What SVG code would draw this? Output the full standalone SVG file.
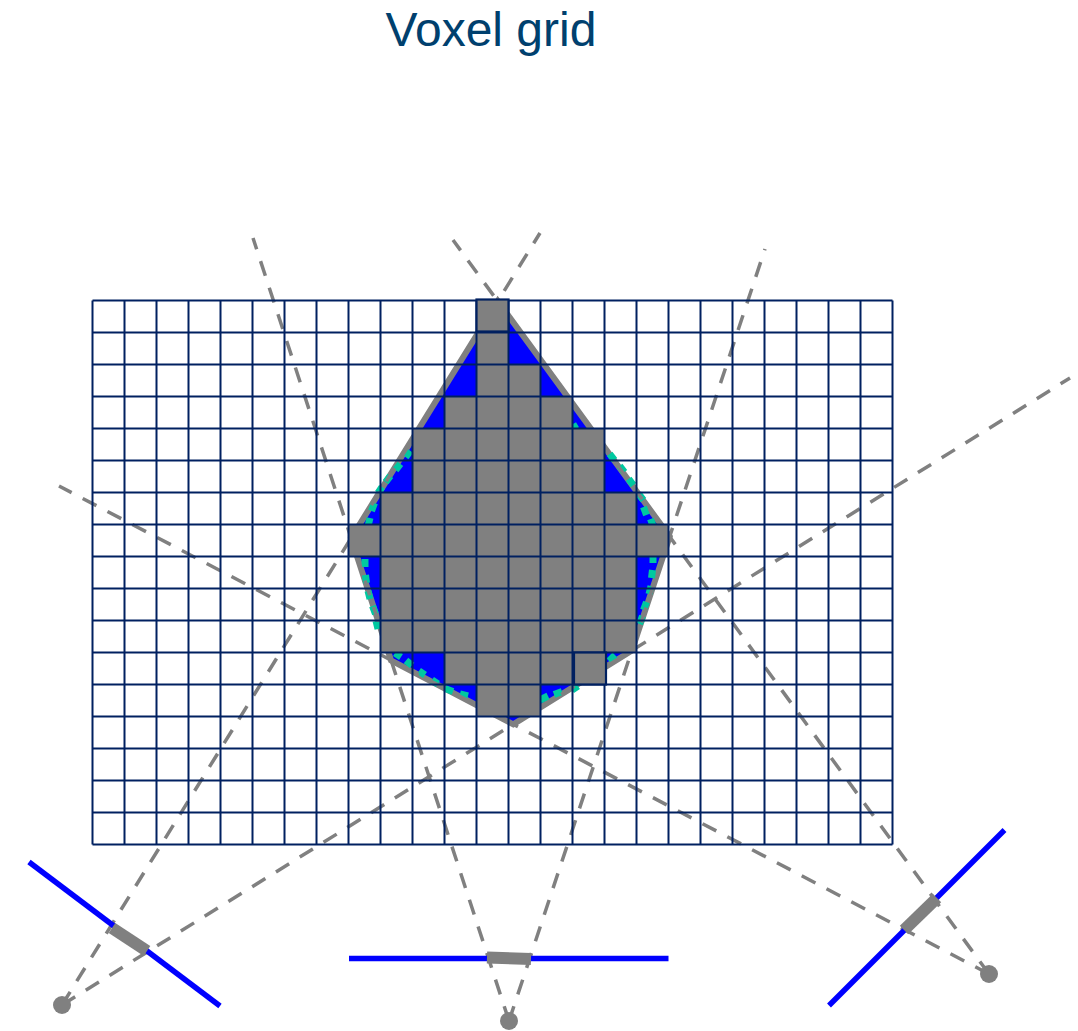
<svg xmlns="http://www.w3.org/2000/svg" width="1078" height="1031" viewBox="0 0 1078 1031">
<style>
.ray{fill:none;stroke:#808080;stroke-width:3.5;stroke-dasharray:15.5 12.5}
.det{fill:none;stroke:#0000ff;stroke-width:5.5}
.act{fill:none;stroke:#808080;stroke-width:12}
.src{fill:#808080}
.vox{fill:#808080;stroke:#002060;stroke-width:2.2}
</style>
<rect width="1078" height="1031" fill="#ffffff"/>
<text id="title" x="491" y="46" text-anchor="middle" font-family="'Liberation Sans',Arial,sans-serif" font-size="48" fill="#00406e">Voxel grid</text>
<g id="object">
<polygon points="497.8,301.2 351.1,538.1 391,660.3 513.3,724.4 631.9,650.6 669.7,536.6" fill="#0000ff" stroke="#808080" stroke-width="6"/>
<path fill="none" stroke="#00c8a0" stroke-width="7" d="M410.4,450.8L405.6,457.2M400.4,463.8L395.6,470.2M390.4,475.8L385.6,482.2M382,487L378,493M374.5,503L371.5,511M370,518L368,526M609.6,453.8L614.4,460.2M619.6,465.8L624.4,472.2M628.6,478.8L633.4,485.2M638.6,493.8L643.4,500.2M643.5,507L646.5,515M650.5,519L653.5,527M573,424L576,429M365,559L365,567M365.5,575L366.5,583M368,591L370,599M372.5,606L375.5,614M376,621L378,629M395,653L401,657M406,660.5L412,665.5M419,671L425,675M432,680L438,684M445,688.5L453,691.5M460,694L468,696M653,555L653,563M652.5,570L651.5,578M651,586L649,594M646.5,602L643.5,610M642.5,616L639.5,624M615,655L609,661M578,686L572,690M562,691.5L554,694.5M548,696L540,700"/>
</g>
<g id="connectors">
<path class="ray" d="M62,1005L540,233"/>
<path class="ray" d="M62,1005L1070,378"/>
<path class="ray" d="M509,1021L253,238"/>
<path class="ray" d="M509,1021L765,249"/>
<path class="ray" d="M989,974L453,240"/>
<path class="ray" d="M989,974L59,486"/>
</g>
<g id="voxels">
<path fill="#808080" d="M476.5,300.5H508.5V364.5H540.5V396.5H572.5V428.5H604.5V492.5H636.5V524.5H668.5V556.5H636.5V652.5H604.5V684.5H540.5V716.5H476.5V684.5H444.5V652.5H380.5V556.5H348.5V524.5H380.5V492.5H412.5V428.5H444.5V396.5H476.5Z"/>
</g>
<g id="grid">
<path fill="none" stroke="#002060" stroke-width="2" d="M92.5,300.5H892.5M92.5,332.5H892.5M92.5,364.5H892.5M92.5,396.5H892.5M92.5,428.5H892.5M92.5,460.5H892.5M92.5,492.5H892.5M92.5,524.5H892.5M92.5,556.5H892.5M92.5,588.5H892.5M92.5,620.5H892.5M92.5,652.5H892.5M92.5,684.5H892.5M92.5,716.5H892.5M92.5,748.5H892.5M92.5,780.5H892.5M92.5,812.5H892.5M92.5,844.5H892.5M92.5,300.5V844.5M124.5,300.5V844.5M156.5,300.5V844.5M188.5,300.5V844.5M220.5,300.5V844.5M252.5,300.5V844.5M284.5,300.5V844.5M316.5,300.5V844.5M348.5,300.5V844.5M380.5,300.5V844.5M412.5,300.5V844.5M444.5,300.5V844.5M476.5,300.5V844.5M508.5,300.5V844.5M540.5,300.5V844.5M572.5,300.5V844.5M604.5,300.5V844.5M636.5,300.5V844.5M668.5,300.5V844.5M700.5,300.5V844.5M732.5,300.5V844.5M764.5,300.5V844.5M796.5,300.5V844.5M828.5,300.5V844.5M860.5,300.5V844.5M892.5,300.5V844.5"/>
</g>
<g id="voxel-top"><rect class="vox" x="476.5" y="299.5" width="32" height="32"/></g>
<g id="voxel-low"><rect class="vox" x="574" y="652.5" width="32" height="32"/></g>
<g id="detector-left">
<path class="det" d="M29,862L220,1006"/>
<path class="act" d="M112,928L147,951"/>
<circle class="src" cx="62" cy="1005" r="9"/>
</g>
<g id="detector-center">
<path class="det" d="M349,958.5H668.5"/>
<path class="act" d="M487,957.5L531,959"/>
<circle class="src" cx="509" cy="1021" r="9"/>
</g>
<g id="detector-right">
<path class="det" d="M829,1005.5L1004.5,830"/>
<path class="act" d="M904,930L937,898"/>
<circle class="src" cx="989" cy="974" r="9"/>
</g>
</svg>
